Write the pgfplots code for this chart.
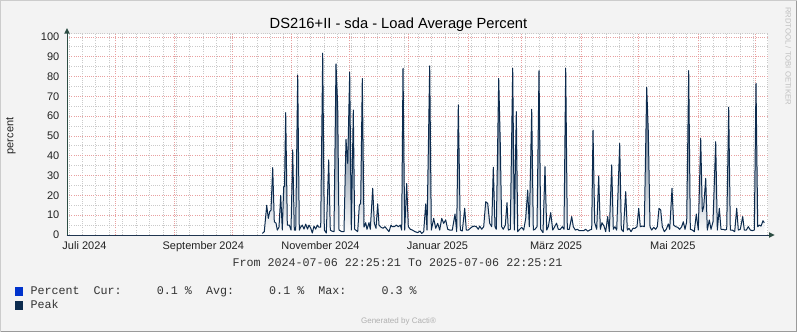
\documentclass[border=0pt]{standalone}
\usepackage{fontspec}
\setmainfont{Liberation Sans}
\newfontfamily\monofont{Liberation Mono}
\usepackage{pgfplots}
\pgfplotsset{compat=1.18}
\definecolor{bgc}{HTML}{F3F3F3}
\definecolor{axisc}{HTML}{2C4D43}
\definecolor{xaxisc}{HTML}{1F3550}
\definecolor{mgridc}{HTML}{E8A0A0}
\definecolor{gridc}{HTML}{CACACA}
\definecolor{peakc}{HTML}{0C2B4E}
\definecolor{pctc}{HTML}{0033CC}
\definecolor{txtc}{HTML}{222222}
\definecolor{legc}{HTML}{333333}
\definecolor{bdl}{HTML}{CCCCCC}
\definecolor{bd}{HTML}{9A9A9A}
\definecolor{wmc}{HTML}{C0C0C0}
\definecolor{genc}{HTML}{B0B0B0}
\begin{document}
\begin{tikzpicture}[x=1pt,y=1pt]
\fill[bgc] (0,0) rectangle (797,-332);
\useasboundingbox (0,0) rectangle (797,-332);
\draw[bdl, line width=1pt] (0.5,-331.5) -- (0.5,-0.5) -- (796.5,-0.5);
\draw[bd, line width=1.2pt] (796.4,-0.5) -- (796.4,-331.4) -- (0.5,-331.4);
\begin{axis}[
  at={(67pt,-235pt)}, anchor=south west,
  scale only axis, width=701pt, height=201.4pt,
  xmin=67, xmax=768, ymin=0, ymax=101.7,
  axis line style={draw=none},
  axis background/.style={fill=white},
  major tick length=0pt, minor tick length=0pt,
  /pgf/number format/assume math mode=true,
  tick label style={font=\fontsize{11}{13}\selectfont, text=txtc, inner sep=0pt},
  ytick={0,10,...,100},
  minor ytick={5,15,...,95},
  ymajorgrids, yminorgrids,
  yticklabel style={anchor=east, xshift=-7.5pt},
  xtick={84.5,203.3,320.5,437.5,556,672.8},
  xticklabels={Juli 2024,September 2024,November 2024,Januar 2025,März 2025,Mai 2025},
  xticklabel style={anchor=base, yshift=-14pt},
  xmajorgrids=false,
  minor xtick={69.04,82.465,...,768},
  xminorgrids,
  extra x ticks={115.07,174.52,232.06,291.51,349.05,408.50,467.95,521.65,581.10,638.64,698.09,755.63},
  extra x tick labels={},
  extra x tick style={grid=major},
  major grid style={mgridc, line width=0.8pt, dash pattern=on 1pt off 1.2pt},
  minor grid style={gridc, line width=0.8pt, dash pattern=on 1pt off 1.2pt},
  clip=true,
]
\addplot[draw=none, top color=peakc, bottom color=white, forget plot] coordinates {
(262.3,0.8)(264.3,1.7)(266.7,15)(268.3,8.4)(269.7,11.8)(271,12.6)(272.7,34)(274.3,6.7)(276,6)(277.3,2.5)(279,4)(280.7,20)(282.3,2.5)(283.7,24.4)(284.5,24.4)(285.7,61.8)(287.3,5)(289.3,5)(291,2.5)(292.7,43)(294.3,2.5)(295.7,2.5)(297.7,80.8)(299.3,2.5)(300.7,4)(302.3,5)(304,3)(305.7,5.5)(307.5,3)(309,5)(310.7,3.5)(312.3,1)(314,4.5)(315.7,3)(317.3,5)(318.7,4)(320.7,4)(322.7,91.8)(324.3,2.5)(326.3,1)(328.7,37.9)(330.3,2.5)(331.7,2)(334,1.7)(336,86.4)(337.7,65)(339,2.5)(341.7,1.7)(344,1.7)(346,48.3)(347.7,36.2)(349.7,82.3)(351.3,2.5)(353.3,63.1)(354.7,2.9)(357.7,1.7)(359.3,15)(360.7,16)(362.3,79)(364,4)(365.7,6.2)(367,2.9)(369,6.2)(370.3,2.9)(372.7,23.6)(374.3,5.9)(376,3.4)(377.7,15.7)(379,5)(381,3.9)(383,3.4)(385,4.2)(387,2.9)(389,1.7)(391,5)(392.3,4.2)(394.3,4.2)(396.3,5)(398.3,4.2)(400.3,5)(401.7,2.5)(403,84.2)(404.7,2.5)(406.7,26)(408.3,4.2)(410.3,2.9)(412.3,2.5)(415,1.7)(417.7,1.2)(420,2)(421.7,0.8)(423.7,1.7)(425.7,15.7)(427,2.5)(429.7,85.4)(431.3,2.5)(433.7,8.4)(435.7,3.4)(437.7,5.9)(439.7,2.5)(441.7,8.4)(443.7,5.9)(445.7,7.6)(447.7,2.9)(449.7,2.5)(452.3,2.5)(455,10.6)(456.7,1.7)(458.3,65.7)(460.3,2.5)(462.3,2)(464.7,13.5)(466.3,2.5)(468.3,2.5)(470.3,3.4)(472.3,4.2)(474.3,4.5)(476.3,4.2)(478.3,2.9)(479.7,4.5)(481.7,2.9)(483.7,4.2)(485.7,16.8)(487.7,16)(489.7,5.9)(491.7,4.2)(493.3,34.2)(495,4.2)(496.3,2.9)(498.7,79.1)(500.3,45.5)(501.7,4.2)(503.3,2.9)(505.3,5)(507,16.3)(508.3,2.5)(510.3,2.9)(512.7,84.2)(514.3,2.5)(516.3,62.3)(517.7,1.7)(519.7,2.9)(521.7,3.9)(523.7,2.5)(525.7,8.4)(527.7,22.7)(529.3,4.2)(531.7,63.5)(533.3,2.5)(535,2.9)(537,4.2)(539,83)(540.7,2.9)(543,1.2)(545,34.5)(546.7,2.5)(548.3,4.2)(550.7,11.3)(552.7,2.5)(554.7,4.2)(556.5,6)(558.3,2.9)(560.3,2.9)(562.3,4.2)(564,2.9)(565.7,84.2)(567.3,2.9)(569.3,2.9)(571.7,9.3)(573.3,4.2)(575.3,2.5)(577.3,2.9)(579.3,2.2)(581.7,2.2)(583.7,2.2)(585.7,2.9)(587.7,1.9)(589.7,2.5)(591.7,2.9)(593,53)(594.7,6.2)(596.7,2.9)(598.7,29.8)(600.3,2.9)(602,6.2)(604,4.5)(605.7,1.7)(607.7,9.3)(609.3,1.7)(611.7,35.4)(613.3,2.9)(615,4.2)(616.7,2.5)(619.7,46.3)(621.3,2.9)(623.3,1.7)(625.7,21.9)(627.3,2.5)(629,3.4)(631,1.7)(633,3.4)(635,3.4)(637,4.2)(638.7,13.5)(640.3,4.2)(642.3,4.5)(644.3,4.2)(646.7,74.6)(648.3,52.2)(650,4.2)(651.7,2.5)(653.7,3.9)(655.7,2.9)(657.3,4.2)(659,13.5)(660.7,12.6)(662.3,4.2)(664.3,1.7)(666.3,2.9)(668.3,5.6)(669.7,2.9)(672,23.6)(673.7,5)(675.7,4.2)(677.7,3.9)(679.7,2.9)(681.7,4.2)(683.3,6.7)(685,2.9)(686.7,6.7)(688.7,83)(690.3,2.9)(692.3,2.5)(694.3,1.7)(696.3,10.6)(698.3,2.5)(700.7,48.8)(702.3,11.8)(703.7,14.3)(705.7,28.6)(707.3,2.5)(709.3,7.6)(711,2.9)(713,6.7)(715.7,47.1)(717.3,2.5)(719.3,13.5)(721,2.9)(723,2.9)(725,2.5)(726.7,2.9)(728.7,64.5)(730.3,2.5)(732.3,2.5)(734.7,1.7)(736.7,13.5)(738.3,2.5)(740.3,2.9)(742.7,9.3)(744.3,2.5)(746.3,2.5)(748.3,4.2)(750.3,2.5)(752.3,2.2)(754.3,2.5)(756,76.6)(757.7,4.2)(759.3,5)(761,4.5)(763,7.2)(764.3,6.2)
} \closedcycle;
\addplot[draw=pctc, fill=pctc, line width=0.3pt, forget plot] coordinates {(262.3,0.1)(764.3,0.1)} \closedcycle;
\addplot[draw=peakc, line width=1pt, line join=round, forget plot] coordinates {
(262.3,0.8)(264.3,1.7)(266.7,15)(268.3,8.4)(269.7,11.8)(271,12.6)(272.7,34)(274.3,6.7)(276,6)(277.3,2.5)(279,4)(280.7,20)(282.3,2.5)(283.7,24.4)(284.5,24.4)(285.7,61.8)(287.3,5)(289.3,5)(291,2.5)(292.7,43)(294.3,2.5)(295.7,2.5)(297.7,80.8)(299.3,2.5)(300.7,4)(302.3,5)(304,3)(305.7,5.5)(307.5,3)(309,5)(310.7,3.5)(312.3,1)(314,4.5)(315.7,3)(317.3,5)(318.7,4)(320.7,4)(322.7,91.8)(324.3,2.5)(326.3,1)(328.7,37.9)(330.3,2.5)(331.7,2)(334,1.7)(336,86.4)(337.7,65)(339,2.5)(341.7,1.7)(344,1.7)(346,48.3)(347.7,36.2)(349.7,82.3)(351.3,2.5)(353.3,63.1)(354.7,2.9)(357.7,1.7)(359.3,15)(360.7,16)(362.3,79)(364,4)(365.7,6.2)(367,2.9)(369,6.2)(370.3,2.9)(372.7,23.6)(374.3,5.9)(376,3.4)(377.7,15.7)(379,5)(381,3.9)(383,3.4)(385,4.2)(387,2.9)(389,1.7)(391,5)(392.3,4.2)(394.3,4.2)(396.3,5)(398.3,4.2)(400.3,5)(401.7,2.5)(403,84.2)(404.7,2.5)(406.7,26)(408.3,4.2)(410.3,2.9)(412.3,2.5)(415,1.7)(417.7,1.2)(420,2)(421.7,0.8)(423.7,1.7)(425.7,15.7)(427,2.5)(429.7,85.4)(431.3,2.5)(433.7,8.4)(435.7,3.4)(437.7,5.9)(439.7,2.5)(441.7,8.4)(443.7,5.9)(445.7,7.6)(447.7,2.9)(449.7,2.5)(452.3,2.5)(455,10.6)(456.7,1.7)(458.3,65.7)(460.3,2.5)(462.3,2)(464.7,13.5)(466.3,2.5)(468.3,2.5)(470.3,3.4)(472.3,4.2)(474.3,4.5)(476.3,4.2)(478.3,2.9)(479.7,4.5)(481.7,2.9)(483.7,4.2)(485.7,16.8)(487.7,16)(489.7,5.9)(491.7,4.2)(493.3,34.2)(495,4.2)(496.3,2.9)(498.7,79.1)(500.3,45.5)(501.7,4.2)(503.3,2.9)(505.3,5)(507,16.3)(508.3,2.5)(510.3,2.9)(512.7,84.2)(514.3,2.5)(516.3,62.3)(517.7,1.7)(519.7,2.9)(521.7,3.9)(523.7,2.5)(525.7,8.4)(527.7,22.7)(529.3,4.2)(531.7,63.5)(533.3,2.5)(535,2.9)(537,4.2)(539,83)(540.7,2.9)(543,1.2)(545,34.5)(546.7,2.5)(548.3,4.2)(550.7,11.3)(552.7,2.5)(554.7,4.2)(556.5,6)(558.3,2.9)(560.3,2.9)(562.3,4.2)(564,2.9)(565.7,84.2)(567.3,2.9)(569.3,2.9)(571.7,9.3)(573.3,4.2)(575.3,2.5)(577.3,2.9)(579.3,2.2)(581.7,2.2)(583.7,2.2)(585.7,2.9)(587.7,1.9)(589.7,2.5)(591.7,2.9)(593,53)(594.7,6.2)(596.7,2.9)(598.7,29.8)(600.3,2.9)(602,6.2)(604,4.5)(605.7,1.7)(607.7,9.3)(609.3,1.7)(611.7,35.4)(613.3,2.9)(615,4.2)(616.7,2.5)(619.7,46.3)(621.3,2.9)(623.3,1.7)(625.7,21.9)(627.3,2.5)(629,3.4)(631,1.7)(633,3.4)(635,3.4)(637,4.2)(638.7,13.5)(640.3,4.2)(642.3,4.5)(644.3,4.2)(646.7,74.6)(648.3,52.2)(650,4.2)(651.7,2.5)(653.7,3.9)(655.7,2.9)(657.3,4.2)(659,13.5)(660.7,12.6)(662.3,4.2)(664.3,1.7)(666.3,2.9)(668.3,5.6)(669.7,2.9)(672,23.6)(673.7,5)(675.7,4.2)(677.7,3.9)(679.7,2.9)(681.7,4.2)(683.3,6.7)(685,2.9)(686.7,6.7)(688.7,83)(690.3,2.9)(692.3,2.5)(694.3,1.7)(696.3,10.6)(698.3,2.5)(700.7,48.8)(702.3,11.8)(703.7,14.3)(705.7,28.6)(707.3,2.5)(709.3,7.6)(711,2.9)(713,6.7)(715.7,47.1)(717.3,2.5)(719.3,13.5)(721,2.9)(723,2.9)(725,2.5)(726.7,2.9)(728.7,64.5)(730.3,2.5)(732.3,2.5)(734.7,1.7)(736.7,13.5)(738.3,2.5)(740.3,2.9)(742.7,9.3)(744.3,2.5)(746.3,2.5)(748.3,4.2)(750.3,2.5)(752.3,2.2)(754.3,2.5)(756,76.6)(757.7,4.2)(759.3,5)(761,4.5)(763,7.2)(764.3,6.2)
};
\end{axis}
% top grid edge
\draw[gridc, line width=0.8pt, dash pattern=on 1pt off 1.2pt] (67,-33.6) -- (768,-33.6);
% axes
\draw[axisc, line width=1pt] (67,-235) -- (67,-33);
\draw[xaxisc, line width=1pt] (66.5,-235) -- (769,-235);
\fill[axisc] (64.2,-33.6) -- (69.8,-33.6) -- (67,-28.2) -- cycle;
\fill[axisc] (769,-232.2) -- (769,-237.8) -- (774.5,-235) -- cycle;
% title
\node[anchor=base, inner sep=0pt, font=\fontsize{14.7}{17}\selectfont, text=black] at (398.5,-28.3) {DS216+II - sda - Load Average Percent};
% y label
\node[rotate=90, anchor=center, inner sep=0pt, font=\fontsize{11}{13}\selectfont, text=txtc] at (11,-136) {percent};
% watermark
\node[rotate=-90, anchor=center, inner sep=0pt, font=\fontsize{7.7}{9}\selectfont, text=wmc] at (788.3,-56) {RRDTOOL / TOBI OETIKER};
% from/to
\node[anchor=base, inner sep=0pt, font=\monofont\fontsize{11.7}{13}\selectfont, text=legc] at (397.5,-266) {From 2024-07-06 22:25:21 To 2025-07-06 22:25:21};
% legend
\fill[pctc] (15.3,-286.7) rectangle (23,-296);
\fill[peakc] (15.3,-300.7) rectangle (23,-310);
\node[anchor=base west, inner sep=0pt, font=\monofont\fontsize{11.7}{13}\selectfont, text=legc] at (30.3,-294.3) {Percent~~Cur:~~~~~0.1~\%~~Avg:~~~~~0.1~\%~~Max:~~~~~0.3~\%};
\node[anchor=base west, inner sep=0pt, font=\monofont\fontsize{11.7}{13}\selectfont, text=legc] at (30.3,-308) {Peak};
% generated by
\node[anchor=center, inner sep=0pt, font=\fontsize{8}{9}\selectfont, text=genc] at (398.5,-321) {Generated by Cacti®};
\end{tikzpicture}
\end{document}
